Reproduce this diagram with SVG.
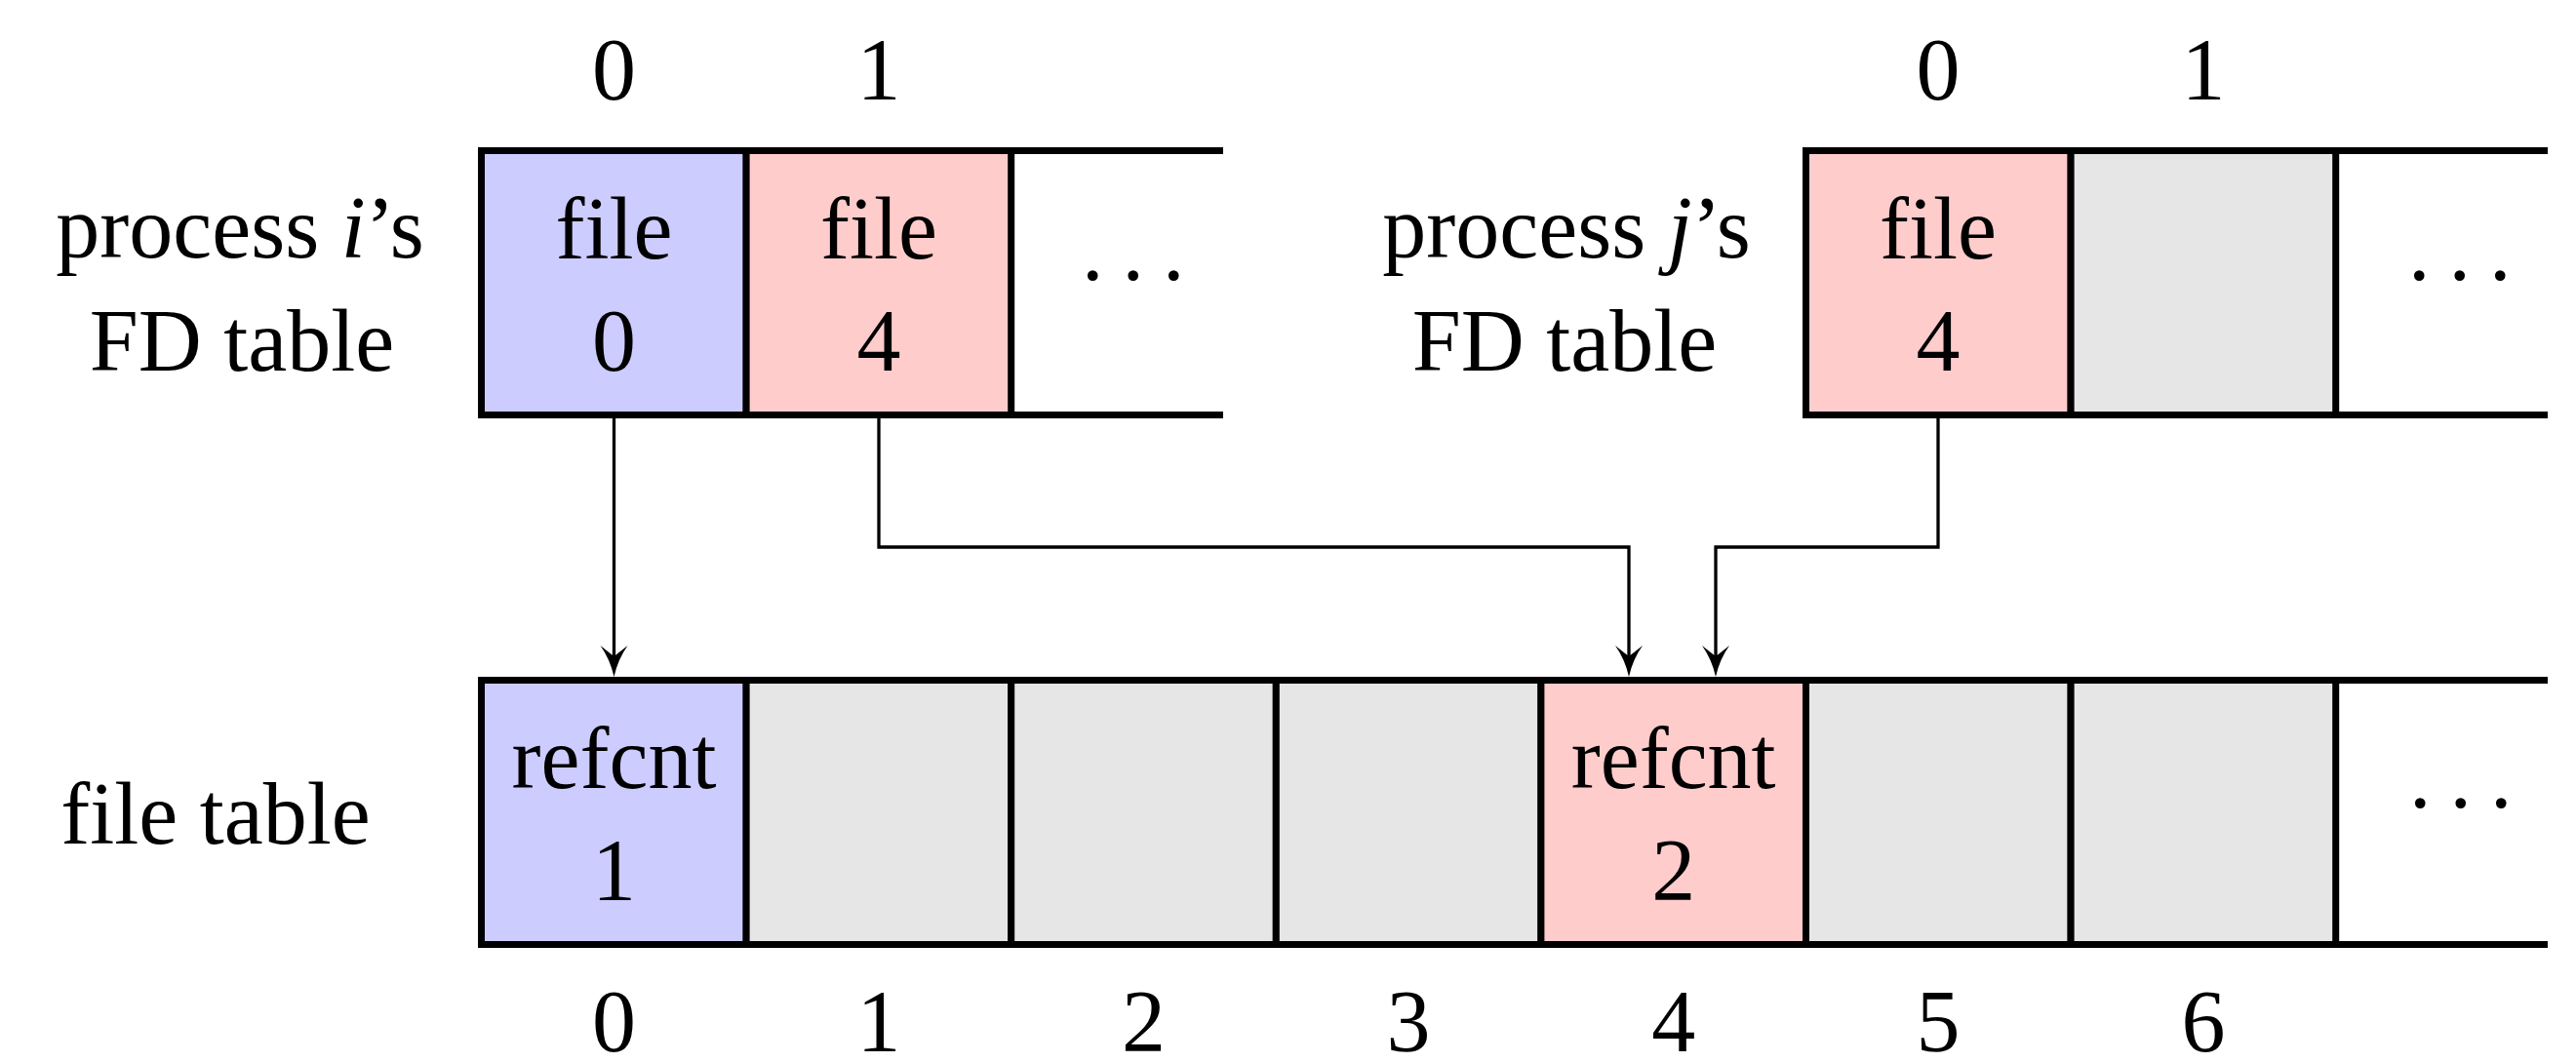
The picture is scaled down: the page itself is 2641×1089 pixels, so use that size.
<svg xmlns="http://www.w3.org/2000/svg" width="2641" height="1089" viewBox="0 0 2641 1089">
<style>
text{font-family:"Liberation Serif","Times New Roman",serif;font-size:90px;fill:#000;text-anchor:middle}
.cell{stroke:#000;stroke-width:7}
.blue{fill:#ccccff}
.pink{fill:#ffcccc}
.gray{fill:#e6e6e6}
.white{fill:#ffffff}
.edge{stroke:#000;stroke-width:7;fill:none}
.conn{stroke:#000;stroke-width:3.3;fill:none;marker-end:url(#arr)}
.dots{text-anchor:start;letter-spacing:19px}
</style>
<defs>
<marker id="arr" markerUnits="userSpaceOnUse" viewBox="-34 -16 36 32" refX="-14" refY="0" markerWidth="36" markerHeight="32" orient="auto" overflow="visible">
<path d="M0,0 Q-18,-4 -32,-14 Q-24,-4 -21,0 Q-24,4 -32,14 Q-18,4 0,0 Z" fill="#000"/>
</marker>
</defs>

<rect width="2641" height="1089" fill="#fff"/>

<g id="label-proc-i">
<text x="246" y="264">process <tspan font-style="italic">i</tspan>’s</text>
<text x="248" y="380">FD table</text>
</g>
<g id="label-proc-j">
<text x="1606" y="264">process <tspan font-style="italic">j</tspan>’s</text>
<text x="1604" y="380">FD table</text>
</g>
<g id="label-file-table">
<text x="221" y="865">file table</text>
</g>

<g id="fd-i">
<line class="edge" x1="490" y1="154.5" x2="1254" y2="154.5"/>
<line class="edge" x1="490" y1="425.5" x2="1254" y2="425.5"/>
<g id="fd-i-0">
<rect class="cell blue" x="493.5" y="154.5" width="271.6" height="271"/>
<text x="629.5" y="265">file</text>
<text x="629.5" y="380">0</text>
</g>
<g id="fd-i-1">
<rect class="cell pink" x="765.1" y="154.5" width="271.6" height="271"/>
<text x="901" y="265">file</text>
<text x="901" y="380">4</text>
</g>
<text class="dots" x="1109" y="287">...</text>
<text x="629.5" y="102">0</text>
<text x="901" y="102">1</text>
</g>

<g id="fd-j">
<line class="edge" x1="1848" y1="154.5" x2="2612" y2="154.5"/>
<line class="edge" x1="1848" y1="425.5" x2="2612" y2="425.5"/>
<g id="fd-j-0">
<rect class="cell pink" x="1851.5" y="154.5" width="271.6" height="271"/>
<text x="1987" y="265">file</text>
<text x="1987" y="380">4</text>
</g>
<g id="fd-j-1">
<rect class="cell gray" x="2123.1" y="154.5" width="271.6" height="271"/>
</g>
<text class="dots" x="2469" y="287">...</text>
<text x="1987" y="102">0</text>
<text x="2259" y="102">1</text>
</g>

<g id="file-table">
<line class="edge" x1="490" y1="697.5" x2="2612" y2="697.5"/>
<line class="edge" x1="490" y1="968.5" x2="2612" y2="968.5"/>
<g id="ft-0">
<rect class="cell blue" x="493.5" y="697.5" width="271.6" height="271"/>
<text x="629.5" y="808">refcnt</text>
<text x="629.5" y="923">1</text>
</g>
<rect id="ft-1" class="cell gray" x="765.1" y="697.5" width="271.6" height="271"/>
<rect id="ft-2" class="cell gray" x="1036.7" y="697.5" width="271.6" height="271"/>
<rect id="ft-3" class="cell gray" x="1308.3" y="697.5" width="271.6" height="271"/>
<g id="ft-4">
<rect class="cell pink" x="1579.9" y="697.5" width="271.6" height="271"/>
<text x="1715.7" y="808">refcnt</text>
<text x="1715.7" y="923">2</text>
</g>
<rect id="ft-5" class="cell gray" x="1851.5" y="697.5" width="271.6" height="271"/>
<rect id="ft-6" class="cell gray" x="2123.1" y="697.5" width="271.6" height="271"/>
<text class="dots" x="2470" y="828">...</text>
<text x="629.5" y="1078">0</text>
<text x="901" y="1078">1</text>
<text x="1172.5" y="1078">2</text>
<text x="1444" y="1078">3</text>
<text x="1715.7" y="1078">4</text>
<text x="1987" y="1078">5</text>
<text x="2259" y="1078">6</text>
</g>

<g id="connectors">
<path class="conn" d="M629.5,429 V680"/>
<path class="conn" d="M901,429 V561 H1670 V680"/>
<path class="conn" d="M1987,429 V561 H1759 V680"/>
</g>
</svg>
